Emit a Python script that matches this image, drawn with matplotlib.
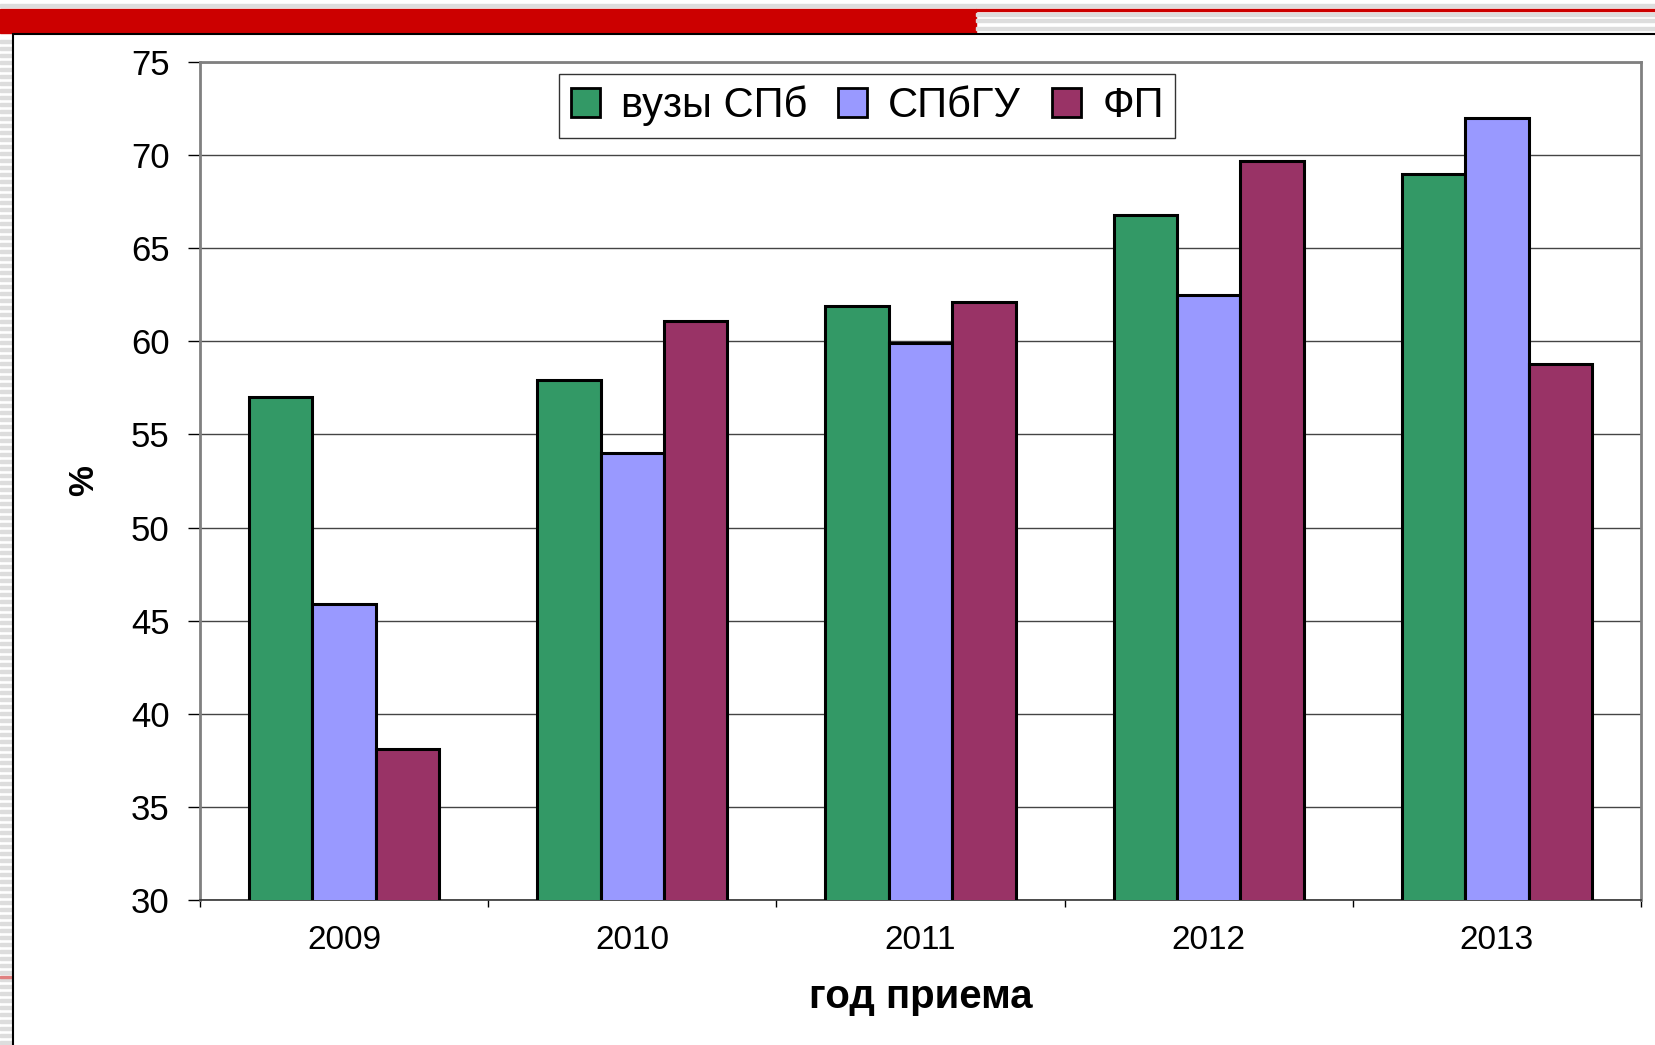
import matplotlib.pyplot as plt
import matplotlib.patches as mpatches
import numpy as np

plt.rcParams['font.family'] = ['Liberation Sans', 'DejaVu Sans']

years = ['2009', '2010', '2011', '2012', '2013']
vuzy_spb = [57.0, 57.9, 61.9, 66.8, 69.0]
spbgu = [45.9, 54.0, 59.9, 62.5, 72.0]
fp = [38.1, 61.1, 62.1, 69.7, 58.8]

series = [('вузы СПб', vuzy_spb, '#339966'),
          ('СПбГУ', spbgu, '#9999FF'),
          ('ФП', fp, '#993366')]

fig = plt.figure(figsize=(16.55, 10.45), dpi=100)

# slide decoration: red header bar, grey stripes, frame
W, H = 1655, 1045
def px_rect(x0, y0, x1, y1, color, **kw):
    fig.patches.append(mpatches.Rectangle((x0 / W, 1 - y1 / H), (x1 - x0) / W, (y1 - y0) / H,
                                          transform=fig.transFigure, color=color, zorder=0, **kw))

px_rect(0, 4, W, 7, '#dddddd')
px_rect(0, 9, 976, 33, '#cc0000')
px_rect(976, 9, W, 11, '#cc0000')
for y in (13, 19, 27):
    px_rect(976, y, W, y + 3, '#dddddd')
for y in range(40, H, 7):
    px_rect(0, y, 12, y + 3, '#dddddd')
px_rect(0, 976, 12, 978, '#e08080')
fig.patches.append(mpatches.Rectangle((13 / W, -0.01), 1.0, 1 - 34 / H + 0.01,
                                      transform=fig.transFigure, fill=False,
                                      edgecolor='black', linewidth=1.5, zorder=1))

ax = fig.add_axes([200 / W, 1 - 900 / H, (1641 - 200) / W, (900 - 62) / H])

x = np.arange(len(years))
width = 0.22
for i, (name, vals, col) in enumerate(series):
    ax.bar(x + (i - 1) * width, vals, width, color=col, edgecolor='black',
           linewidth=2.2, label=name, zorder=3)

ax.set_ylim(30, 75)
ax.set_xlim(-0.5, len(years) - 0.5)
ax.set_yticks(range(30, 76, 5))
ax.yaxis.grid(True, color='#444444', linewidth=1.0, zorder=0)
ax.tick_params(axis='y', labelsize=25, length=9, width=1, pad=13, direction='out')

ax.set_xticks(x)
ax.set_xticklabels(years)
ax.set_xticks(np.arange(-0.5, len(years), 1.0), minor=True)
ax.tick_params(axis='x', which='major', length=0, labelsize=24, pad=18)
ax.tick_params(axis='x', which='minor', length=5, width=1, direction='out')

for side in ('left', 'top', 'right'):
    ax.spines[side].set_color('#808080')
    ax.spines[side].set_linewidth(2)
ax.spines['bottom'].set_color('#333333')
ax.spines['bottom'].set_linewidth(1.2)

ax.set_ylabel('%', fontsize=25, fontweight='bold')
ax.yaxis.set_label_coords(-0.069, 0.5)
ax.set_xlabel('год приема', fontsize=29, fontweight='bold')
ax.xaxis.set_label_coords(0.5, -0.093)

leg = ax.legend(loc='upper center', bbox_to_anchor=(0.463, 0.9857), ncol=3,
                fontsize=30, frameon=True, fancybox=False, edgecolor='black',
                handlelength=0.7, handleheight=0.7, handletextpad=0.5,
                columnspacing=0.75, borderpad=0.28, borderaxespad=0)
leg.get_frame().set_linewidth(1.0)
for h in leg.legend_handles:
    h.set_linewidth(2.0)

fig.savefig('out.png', dpi=100)
